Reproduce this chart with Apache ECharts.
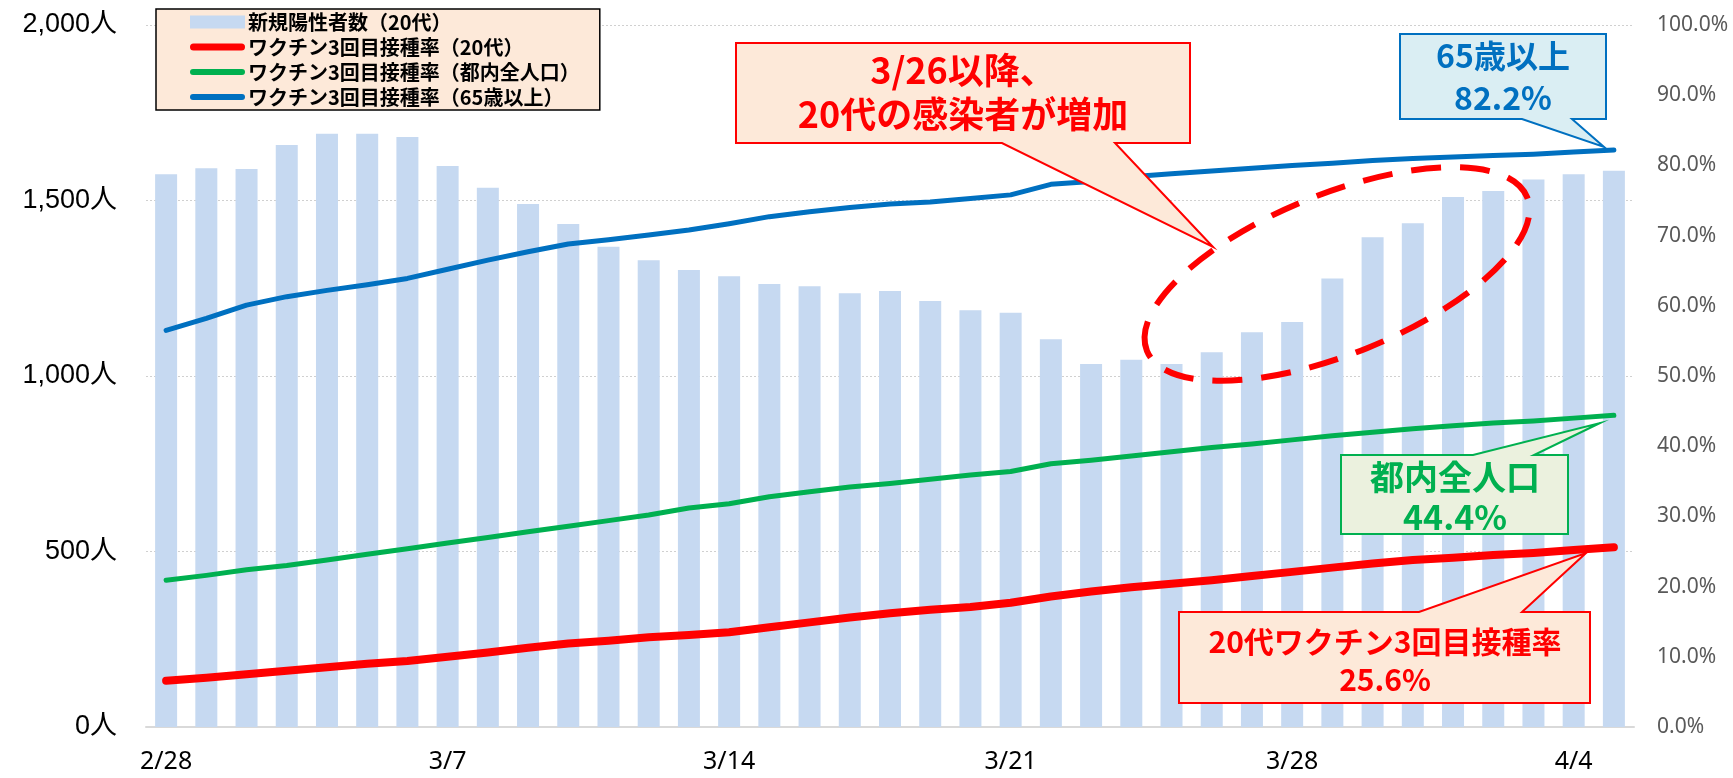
<!DOCTYPE html>
<html>
<head>
<meta charset="utf-8">
<title>20代 新規陽性者数とワクチン3回目接種率</title>
<script src="https://cdn.jsdelivr.net/npm/echarts@6/dist/echarts.min.js"></script>
<style>
html, body { margin: 0; padding: 0; background: #fff; }
#chartMain { width: 1733px; height: 778px; }
</style>
</head>
<body>
<div id="chartMain"></div>
<script>
// 日付（2/28〜4/5）
var dates = ['2/28', '3/1', '3/2', '3/3', '3/4', '3/5', '3/6', '3/7', '3/8', '3/9',
    '3/10', '3/11', '3/12', '3/13', '3/14', '3/15', '3/16', '3/17', '3/18', '3/19',
    '3/20', '3/21', '3/22', '3/23', '3/24', '3/25', '3/26', '3/27', '3/28', '3/29',
    '3/30', '3/31', '4/1', '4/2', '4/3', '4/4', '4/5'];

// 新規陽性者数（20代）
var cases20s = [1575, 1592, 1590, 1658, 1690, 1690, 1681, 1598, 1536, 1490,
    1433, 1368, 1330, 1302, 1284, 1262, 1256, 1236, 1242, 1214,
    1187, 1180, 1105, 1034, 1046, 1034, 1068, 1125, 1154, 1278,
    1395, 1435, 1510, 1527, 1560, 1575, 1585];

// ワクチン3回目接種率（%）
var rate20s = [6.6, 7.0, 7.5, 8.0, 8.5, 9.0, 9.4, 10.0, 10.6, 11.3,
    11.9, 12.3, 12.8, 13.1, 13.5, 14.2, 14.9, 15.6, 16.2, 16.7,
    17.1, 17.7, 18.6, 19.3, 19.9, 20.4, 20.9, 21.5, 22.1, 22.7,
    23.3, 23.8, 24.1, 24.5, 24.8, 25.2, 25.6];
var rateAll = [20.9, 21.6, 22.4, 23.0, 23.8, 24.6, 25.4, 26.2, 27.0, 27.8,
    28.6, 29.4, 30.2, 31.2, 31.8, 32.8, 33.5, 34.2, 34.7, 35.3,
    35.9, 36.4, 37.5, 38.0, 38.6, 39.2, 39.8, 40.3, 40.9, 41.5,
    42.0, 42.5, 42.9, 43.3, 43.6, 44.0, 44.4];
var rate65 = [56.5, 58.2, 60.1, 61.3, 62.2, 63.0, 63.9, 65.2, 66.5, 67.7,
    68.8, 69.4, 70.1, 70.8, 71.7, 72.7, 73.4, 74.0, 74.5, 74.8,
    75.3, 75.8, 77.3, 77.7, 78.4, 78.8, 79.2, 79.6, 80.0, 80.3,
    80.7, 81.0, 81.2, 81.4, 81.6, 81.9, 82.2];

var seriesNames = ['新規陽性者数（20代）', 'ワクチン3回目接種率（20代）',
    'ワクチン3回目接種率（都内全人口）', 'ワクチン3回目接種率（65歳以上）'];

var jpFont = '"Noto Sans CJK JP", "Noto Sans", sans-serif';

// 凡例の線アイコン（角丸）
function lineIcon(t) {
    var r = t / 2, L = 55;
    return 'path://M' + r + ',0H' + (L - r) + 'A' + r + ',' + r + ' 0 0 1 ' + (L - r) + ',' + t +
        'H' + r + 'A' + r + ',' + r + ' 0 0 1 ' + r + ',0Z';
}

// 吹き出し
function callout(points, fill, stroke) {
    return {
        type: 'polygon', z: 100,
        shape: { points: points },
        style: { fill: fill, stroke: stroke, lineWidth: 2 }
    };
}
function label(text, x, y, size, color) {
    return {
        type: 'text', z: 101, x: x, y: y,
        style: {
            text: text, fill: color, fontSize: size, fontWeight: 'bold',
            fontFamily: jpFont, align: 'center', verticalAlign: 'middle'
        }
    };
}

function setChartMain() {
    var option = {
        animation: false,
        grid: { left: 146, right: 99, top: 25, bottom: 51, outerBoundsMode: 'none' },
        legend: {
            orient: 'vertical',
            left: 156, top: 9,
            padding: [3, 20, 3, 34],
            itemGap: 5,
            itemWidth: 55, itemHeight: 13,
            backgroundColor: '#FDE9D9',
            borderColor: '#000', borderWidth: 1.5,
            selectedMode: false,
            itemStyle: { borderWidth: 0 },
            textStyle: { fontSize: 20, fontWeight: 'bold', color: '#000', fontFamily: jpFont, lineHeight: 20, padding: [0, 0, 0, -2] },
            data: [
                { name: seriesNames[0], icon: 'rect' },
                { name: seriesNames[1], icon: lineIcon(7) },
                { name: seriesNames[2], icon: lineIcon(6) },
                { name: seriesNames[3], icon: lineIcon(6) }
            ]
        },
        xAxis: {
            type: 'category',
            data: dates,
            boundaryGap: true,
            axisLine: { lineStyle: { color: '#D9D9D9', width: 2 } },
            axisTick: { interval: 6, length: 10, lineStyle: { color: '#D9D9D9', width: 2 } },
            axisLabel: { interval: 6, color: '#000', fontSize: 25, fontFamily: '"Noto Sans", sans-serif', margin: 22 }
        },
        yAxis: [{
            type: 'value', min: 0, max: 2000, interval: 500,
            axisLine: { show: false }, axisTick: { show: false },
            splitLine: { lineStyle: { color: '#D0D0D0', width: 1, type: [2, 2] } },
            axisLabel: {
                color: '#000', fontSize: 27, margin: 29,
                fontFamily: '"Liberation Sans", "Noto Sans CJK JP", sans-serif',
                formatter: function (v) { return v.toLocaleString('en-US') + '人'; }
            }
        }, {
            type: 'value', min: 0, max: 100, interval: 10, position: 'right',
            axisLine: { show: false }, axisTick: { show: false },
            splitLine: { show: false },
            axisLabel: {
                color: '#595959', fontSize: 21, margin: 23, fontFamily: '"Noto Sans", sans-serif',
                formatter: function (v) { return v.toFixed(1) + '%'; }
            }
        }],
        series: [{
            name: seriesNames[0], type: 'bar', data: cases20s,
            barWidth: 22, itemStyle: { color: '#C6D9F1' }, z: 1
        }, {
            name: seriesNames[1], type: 'line', yAxisIndex: 1, data: rate20s,
            symbol: 'none', color: '#FF0000', z: 4,
            lineStyle: { width: 8, color: '#FF0000', cap: 'round', join: 'round' }
        }, {
            name: seriesNames[2], type: 'line', yAxisIndex: 1, data: rateAll,
            symbol: 'none', color: '#00B050', z: 3,
            lineStyle: { width: 5, color: '#00B050', cap: 'round', join: 'round' }
        }, {
            name: seriesNames[3], type: 'line', yAxisIndex: 1, data: rate65,
            symbol: 'none', color: '#0070C0', z: 3,
            lineStyle: { width: 5, color: '#0070C0', cap: 'round', join: 'round' }
        }],
        graphic: [
            // 点線の楕円
            {
                type: 'ellipse', z: 99, x: 1337, y: 274, rotation: 22 * Math.PI / 180,
                shape: { cx: 0, cy: 0, rx: 205, ry: 80 },
                style: { fill: 'none', stroke: '#FF0000', lineWidth: 6, lineDash: [30, 19] }
            },
            callout([[736, 43], [1190, 43], [1190, 143], [1115, 143], [1213, 247], [1002, 143], [736, 143]], '#FDE9D9', '#FF0000'),
            label('3/26以降、', 963, 70, 36, '#FF0000'),
            label('20代の感染者が増加', 963, 114, 36, '#FF0000'),
            callout([[1400, 34], [1606, 34], [1606, 119], [1572, 119], [1604, 147], [1522, 119], [1400, 119]], '#DAEEF3', '#0070C0'),
            label('65歳以上', 1503, 56, 32, '#0070C0'),
            label('82.2%', 1503, 98, 32, '#0070C0'),
            callout([[1341, 455], [1473, 455], [1600, 423], [1534, 455], [1568, 455], [1568, 534], [1341, 534]], '#EBF1DE', '#00B050'),
            label('都内全人口', 1455, 477, 34, '#00B050'),
            label('44.4%', 1455, 517, 34, '#00B050'),
            callout([[1179, 612], [1419, 612], [1586, 553], [1522, 612], [1590, 612], [1590, 703], [1179, 703]], '#FDE9D9', '#FF0000'),
            label('20代ワクチン3回目接種率', 1385, 642, 30, '#FF0000'),
            label('25.6%', 1385, 680, 30, '#FF0000')
        ]
    };
    var myChart = echarts.init(document.getElementById('chartMain'));
    myChart.setOption(option);
}
setChartMain();
</script>
</body>
</html>
